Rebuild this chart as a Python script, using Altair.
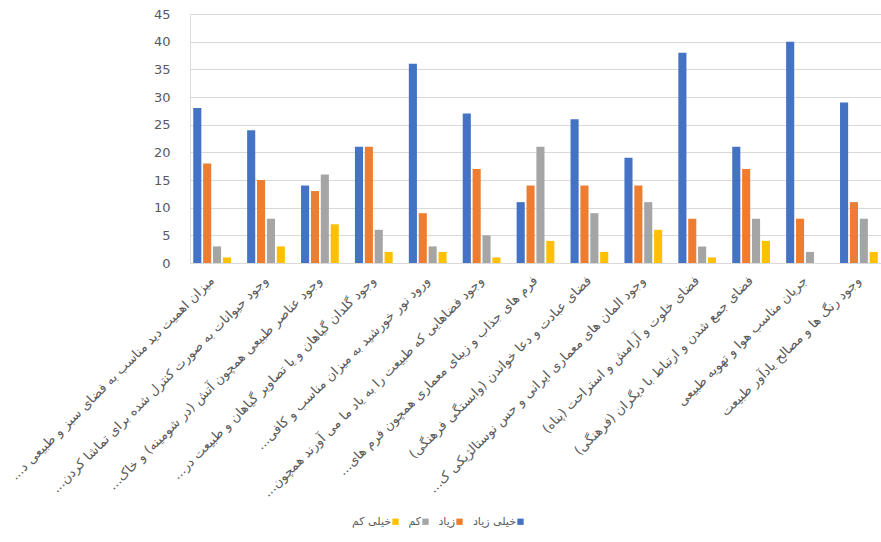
import altair as alt
import pandas as pd

RLM = "\u200f"
categories = [
    "میزان اهمیت دید مناسب به فضای سبز و طبیعی د..." + RLM,
    "وجود حیوانات به صورت کنترل شده برای تماشا کردن..." + RLM,
    "وجود عناصر طبیعی همچون آتش (در شومینه) و خاک..." + RLM,
    "وجود گلدان گیاهان و یا تصاویر گیاهان و طبیعت در..." + RLM,
    "ورود نور خورشید به میزان مناسب و کافی..." + RLM,
    "وجود فضاهایی که طبیعت را به یاد ما می آورند همچون..." + RLM,
    "فرم های جذاب و زیبای معماری همچون فرم های..." + RLM,
    "فضای عبادت و دعا خواندن (وابستگی فرهنگی)" + RLM,
    "وجود المان های معماری ایرانی و حس نوستالژیکی ک..." + RLM,
    "فضای خلوت و آرامش و استراحت (پناه)" + RLM,
    "فضای جمع شدن و ارتباط با دیگران (فرهنگی)" + RLM,
    "جریان مناسب هوا و تهویه طبیعی",
    "وجود رنگ ها و مصالح یادآور طبیعت",
]
series = ["خیلی زیاد", "زیاد", "کم", "خیلی کم"]
very_high = [28, 24, 14, 21, 36, 27, 11, 26, 19, 38, 21, 40, 29]
high = [18, 15, 13, 21, 9, 17, 14, 14, 14, 8, 17, 8, 11]
low = [3, 8, 16, 6, 3, 5, 21, 9, 11, 3, 8, 2, 8]
very_low = [1, 3, 7, 2, 2, 1, 4, 2, 6, 1, 4, 0, 2]
colors = ["#4472C4", "#ED7D31", "#A5A5A5", "#FFC000"]

rows = []
for s, vals in zip(series, [very_high, high, low, very_low]):
    for c, v in zip(categories, vals):
        rows.append({"category": c, "series": s, "value": v})
df = pd.DataFrame(rows)

font = "DejaVu Sans"

chart = alt.Chart(df).mark_bar().encode(
    x=alt.X("category:N", sort=categories, title=None,
            scale=alt.Scale(paddingInner=0.3, paddingOuter=0.06),
            axis=alt.Axis(labelAngle=-45, labelAlign="right", labelBaseline="middle",
                          labelPadding=15, labelLimit=400, labelFontSize=13,
                          labelColor="#595959", labelFont=font,
                          ticks=False, domain=False)),
    xOffset=alt.XOffset("series:N", sort=series,
                        scale=alt.Scale(domain=series, paddingInner=0.18)),
    y=alt.Y("value:Q", title=None,
            scale=alt.Scale(domain=[0, 45]),
            axis=alt.Axis(values=list(range(0, 50, 5)), ticks=False, domain=False,
                          labelPadding=20, labelFontSize=13, labelColor="#595959",
                          labelFont=font, gridColor="#D9D9D9", gridWidth=1)),
    color=alt.Color("series:N", sort=series,
                    scale=alt.Scale(domain=series, range=colors),
                    legend=alt.Legend(title=None, orient="none", direction="horizontal",
                                      legendX=200, legendY=502,
                                      values=["خیلی کم", "کم", "زیاد", "خیلی زیاد"],
                                      symbolType="square", symbolSize=40,
                                      labelAlign="right", labelOffset={"expr": "-10"},
                                      labelFontSize=11, labelColor="#595959",
                                      labelFont=font, columnPadding=9)),
).properties(
    width=691, height=249,
    padding={"left": 190, "top": 14, "right": 0, "bottom": 279},
    autosize=alt.AutoSizeParams(type="none"),
).configure_view(stroke=None).configure(background="white")

chart.save("out.html", embed_options={"renderer": "svg", "actions": False})
